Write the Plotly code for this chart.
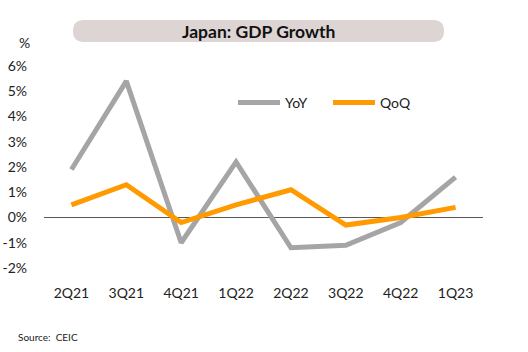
import plotly.graph_objects as go

quarters = ["2Q21", "3Q21", "4Q21", "1Q22", "2Q22", "3Q22", "4Q22", "1Q23"]
yoy = [1.9, 5.4, -1.0, 2.2, -1.2, -1.1, -0.2, 1.6]
qoq = [0.5, 1.3, -0.2, 0.5, 1.1, -0.3, 0.0, 0.4]
y_ticks = [-2, -1, 0, 1, 2, 3, 4, 5, 6]
y_tick_labels = [f"{v}%" for v in y_ticks]

W, H = 528, 352
ML, MR, MT, MB = 44, 45, 66, 84
PW, PH = W - ML - MR, H - MT - MB

def px_x(p):
    return (p - ML) / PW

def px_y(p):
    return (H - MB - p) / PH

FONT = "Lato"
TXT = "#222222"

fig = go.Figure()
fig.add_trace(go.Scatter(x=quarters, y=yoy, mode="lines", name="YoY",
                         line=dict(color="#a5a5a5", width=5)))
fig.add_trace(go.Scatter(x=quarters, y=qoq, mode="lines", name="QoQ",
                         line=dict(color="#ff9a00", width=5)))

# title pill
x0, x1, y0, y1, r = 73, 444, 20, 42, 11
cx = (x0 + x1) / 2
cy = (y0 + y1) / 2
hw, hh = (x1 - x0) / 2, (y1 - y0) / 2
path = (f"M {-hw + r},{hh} L {hw - r},{hh} Q {hw},{hh} {hw},{hh - r} "
        f"L {hw},{-hh + r} Q {hw},{-hh} {hw - r},{-hh} L {-hw + r},{-hh} "
        f"Q {-hw},{-hh} {-hw},{-hh + r} L {-hw},{hh - r} Q {-hw},{hh} {-hw + r},{hh} Z")
fig.add_shape(type="path", xref="paper", yref="paper", xsizemode="pixel", ysizemode="pixel",
              xanchor=px_x(cx), yanchor=px_y(cy), path=path,
              fillcolor="#ddd5d4", line=dict(width=0), layer="below")

fig.add_annotation(x=px_x(cx), y=px_y(cy), xref="paper", yref="paper",
                   text="<b>Japan: GDP Growth</b>", showarrow=False,
                   font=dict(family=FONT, size=17.5, color="#111111"),
                   xanchor="center", yanchor="middle")
fig.add_annotation(x=px_x(24), y=px_y(43), xref="paper", yref="paper",
                   text="%", showarrow=False,
                   font=dict(family=FONT, size=14, color=TXT),
                   xanchor="center", yanchor="middle")
fig.add_annotation(x=px_x(16), y=px_y(337), xref="paper", yref="paper",
                   text="Source:  CEIC", showarrow=False,
                   font=dict(family=FONT, size=10, color=TXT),
                   xanchor="left", yanchor="middle")

fig.update_layout(
    width=W, height=H,
    margin=dict(l=ML, r=MR, t=MT, b=MB, autoexpand=False),
    paper_bgcolor="white", plot_bgcolor="white",
    font=dict(family=FONT, size=14, color=TXT),
    showlegend=True,
    legend=dict(orientation="h", x=px_x(233), y=px_y(103), xanchor="left", yanchor="middle",
                bgcolor="rgba(0,0,0,0)", font=dict(family=FONT, size=14, color=TXT),
                itemwidth=42, entrywidth=38, tracegroupgap=0),
    xaxis=dict(showgrid=False, showline=False, ticks="", zeroline=False, automargin=False,
               range=[-0.5, len(quarters) - 0.5],
               tickfont=dict(family=FONT, size=14, color=TXT), ticklabelstandoff=15),
    yaxis=dict(range=[-2, 6], tickvals=y_ticks, ticktext=y_tick_labels, automargin=False,
               showgrid=False, showline=False, ticks="",
               zeroline=True, zerolinecolor="#595959", zerolinewidth=1,
               tickfont=dict(family=FONT, size=14, color=TXT), ticklabelstandoff=16),
)

fig.write_html("out.html")
